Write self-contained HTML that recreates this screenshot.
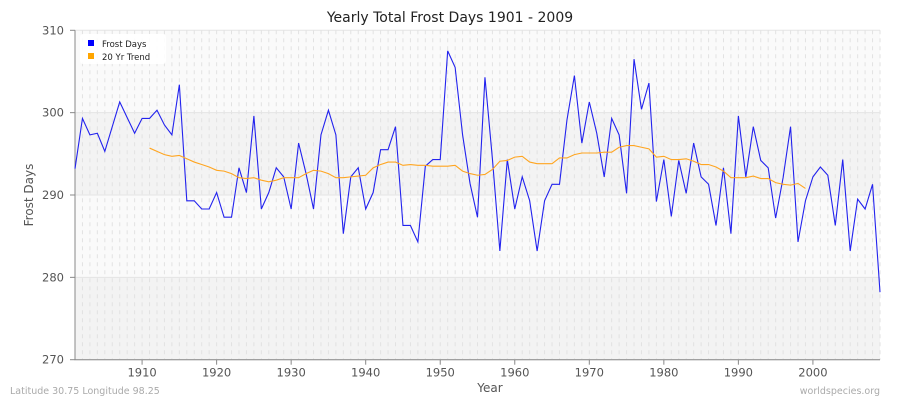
<!DOCTYPE html>
<html><head><meta charset="utf-8"><style>
body{margin:0;background:#fff;font-family:"DejaVu Sans",sans-serif}
svg text{font-family:"DejaVu Sans",sans-serif}
</style></head><body>
<svg id="chart" width="900" height="400" xmlns="http://www.w3.org/2000/svg">
<text x="450" y="22" text-anchor="middle" font-size="14" fill="#222">Yearly Total Frost Days 1901 - 2009</text>
<g id="bg"></g><g id="grid"></g><g id="axes"></g><g id="series"></g>
<text x="490" y="392" text-anchor="middle" font-size="12" fill="#555">Year</text>
<text transform="translate(33,195) rotate(-90)" text-anchor="middle" font-size="12" fill="#555">Frost Days</text>
<text x="10" y="394" font-size="9.5" fill="#aaa">Latitude 30.75 Longitude 98.25</text>
<text x="880" y="394" text-anchor="end" font-size="9.5" fill="#aaa">worldspecies.org</text>
<g>
<rect x="80" y="34" width="86" height="30" rx="3" fill="#fff" opacity="0.9"/>
<rect x="88" y="40" width="6" height="6" fill="#0000ff"/>
<text x="102" y="47" font-size="8.5" fill="#222">Frost Days</text>
<rect x="88" y="53" width="6" height="6" fill="#ffa500"/>
<text x="102" y="60" font-size="8.5" fill="#222">20 Yr Trend</text>
</g>
</svg>
<script>
const years0 = 1901;
const frostDays = [293.2,299.3,297.3,297.5,295.3,298.3,301.3,299.4,297.5,299.3,299.3,300.3,298.5,297.3,303.4,289.3,289.3,288.3,288.3,290.3,287.3,287.3,293.3,290.3,299.6,288.3,290.3,293.3,292.2,288.3,296.3,292.6,288.3,297.3,300.3,297.3,285.3,292.2,293.3,288.3,290.3,295.5,295.5,298.3,286.3,286.3,284.3,293.5,294.3,294.3,307.5,305.5,297.3,291.4,287.3,304.3,294.4,283.2,294.3,288.3,292.2,289.3,283.2,289.3,291.3,291.3,299.1,304.5,296.3,301.3,297.5,292.2,299.3,297.3,290.2,306.5,300.4,303.6,289.2,294.3,287.4,294.2,290.2,296.3,292.2,291.3,286.3,293.3,285.3,299.6,292.2,298.3,294.2,293.3,287.2,292.1,298.3,284.3,289.3,292.2,293.4,292.4,286.3,294.3,283.2,289.5,288.3,291.3,278.2];
const trendStart = 1911;
const trend = [295.7,295.3,294.9,294.7,294.8,294.4,294.0,293.7,293.4,293.0,292.9,292.6,292.1,292.0,292.1,291.8,291.6,291.8,292.1,292.1,292.1,292.6,293.0,292.9,292.6,292.1,292.1,292.2,292.3,292.4,293.3,293.7,294.0,294.0,293.6,293.7,293.6,293.6,293.5,293.5,293.5,293.6,292.9,292.6,292.4,292.5,293.1,294.1,294.2,294.6,294.7,294.0,293.8,293.8,293.8,294.5,294.5,294.9,295.1,295.1,295.1,295.2,295.2,295.8,296.0,296.0,295.8,295.6,294.6,294.7,294.3,294.3,294.4,294.1,293.7,293.7,293.4,292.9,292.1,292.1,292.1,292.3,292.0,292.0,291.5,291.3,291.2,291.4,290.8];
const yTicks = [270,280,290,300,310];
const xTicks = [1910,1920,1930,1940,1950,1960,1970,1980,1990,2000];
const NS="http://www.w3.org/2000/svg";
const X0=75,X1=880,Y0=359.7,Y1=30.3;
function xs(yr){return X0+(yr-1901)*(X1-X0)/108;}
function ys(v){return Y0-(v-270)*(Y0-Y1)/40;}
function mk(t,a,p){const e=document.createElementNS(NS,t);for(const k in a)e.setAttribute(k,a[k]);p.appendChild(e);return e;}
const bg=document.getElementById('bg'),grid=document.getElementById('grid'),axes=document.getElementById('axes'),ser=document.getElementById('series');
for(let i=0;i<yTicks.length-1;i++){
  const r=mk('rect',{x:X0,y:ys(yTicks[i+1]),width:X1-X0,height:ys(yTicks[i])-ys(yTicks[i+1]),fill:i%2==0?'#f3f3f3':'#fafafa'},bg);
  
  
}
for(let yr=1901;yr<=2009;yr++){
  const l=mk('line',{x1:xs(yr),x2:xs(yr),y1:Y1,y2:Y0,stroke:'#e2e2e2','stroke-width':1,'stroke-dasharray':'4,4'},grid);
  
  
}
yTicks.forEach(v=>{
  const l=mk('line',{x1:X0,x2:X1,y1:ys(v),y2:ys(v),stroke:'#e4e4e4','stroke-width':1},grid);
  
  
  const t=mk('line',{x1:X0-5,x2:X0,y1:ys(v),y2:ys(v),stroke:'#888'},axes);
  
  
  const tx=mk('text',{x:X0-11,y:ys(v)+4,'text-anchor':'end','font-size':11.5,fill:'#555'},axes);
  tx.textContent=v;
  
  
});
xTicks.forEach(yr=>{
  const t=mk('line',{x1:xs(yr),x2:xs(yr),y1:Y0,y2:Y0+5,stroke:'#888'},axes);
  
  
  const tx=mk('text',{x:xs(yr),y:Y0+17,'text-anchor':'middle','font-size':11.5,fill:'#555'},axes);
  tx.textContent=yr;
  
  
});
const ax=mk('path',{d:`M${X0},${Y1}V${Y0}H${X1}`,fill:'none',stroke:'#888'},axes);


const bl=mk('polyline',{points:frostDays.map((v,i)=>xs(years0+i)+','+ys(v)).join(' '),fill:'none',stroke:'#2222ee','stroke-width':1.1},ser);


const tl=mk('polyline',{points:trend.map((v,i)=>xs(trendStart+i)+','+ys(v)).join(' '),fill:'none',stroke:'#ffa520','stroke-width':1.1},ser);


</script>
</body></html>
